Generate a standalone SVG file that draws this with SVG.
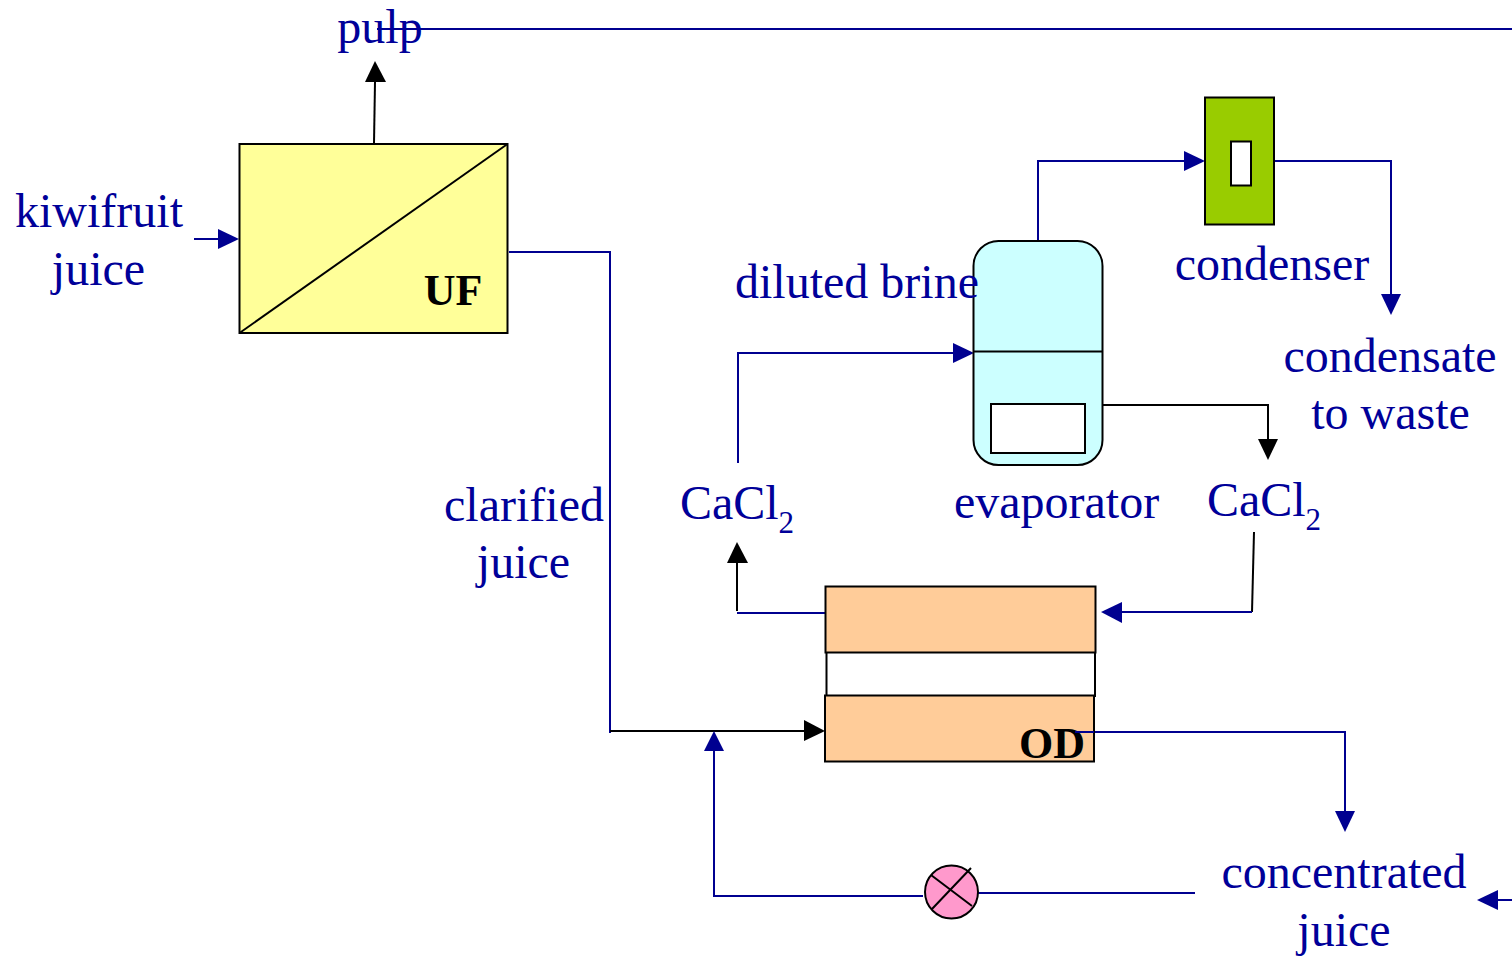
<svg xmlns="http://www.w3.org/2000/svg" width="1512" height="958" viewBox="0 0 1512 958">
<style>
.t{font-family:"Liberation Serif","Times New Roman",serif;font-size:48px;fill:#000099;text-anchor:middle}
.sub{font-size:31px}
.b{font-family:"Liberation Serif","Times New Roman",serif;font-size:44px;font-weight:bold;fill:#000;text-anchor:middle}
.s{stroke:#000;stroke-width:2}
.c{fill:none;stroke:#000090;stroke-width:2}
.k{fill:none;stroke:#000;stroke-width:2}
.hb{fill:#000090}
.hk{fill:#000}
</style>
<rect width="1512" height="958" fill="#fff"/>
<g id="connectors">
<path class="c" d="M377 29H1512"/>
<path class="k" d="M374 143L375 82"/><path class="hk" d="M375 61L386 82H365Z"/>
<path class="c" d="M194 239H218"/><path class="hb" d="M239 239L218 229V249Z"/>
<path class="c" d="M509 252H610V733"/>
<path class="k" d="M610 731H805"/><path class="hk" d="M825 731L804 720V741Z"/>
<path class="c" d="M1038 241V161H1184"/><path class="hb" d="M1205 161L1184 151V171Z"/>
<path class="c" d="M1274 161H1391V294"/><path class="hb" d="M1391 315L1381 294H1401Z"/>
<path class="c" d="M738 463V353H953"/><path class="hb" d="M974 353L953 343V363Z"/>
<path class="k" d="M1103 405H1268V439"/><path class="hk" d="M1268 460L1258 439H1278Z"/>
<path class="k" d="M1254 532L1252 612"/><path class="c" d="M1252 612H1121"/><path class="hb" d="M1101 612L1122 602V623Z"/>
<path class="c" d="M825 613H737"/><path class="k" d="M737 611V563"/><path class="hk" d="M737 542L748 563H727Z"/>
<path class="c" d="M1075 732H1345V811"/><path class="hb" d="M1345 832L1335 811H1355Z"/>
<path class="c" d="M1195 893H978"/><path class="c" d="M923 896H714V751"/><path class="hb" d="M714 731L724 751H704Z"/>
<path class="hb" d="M1477 900L1498 890V910Z"/><path class="c" d="M1498 900H1512"/>
</g>
<g id="uf">
<rect x="239.500" y="144" width="268" height="189" fill="#ffff99" class="s"/>
<path class="k" d="M239.500 333L507.500 144"/>
<text class="b" x="453" y="305">UF</text>
</g>
<g id="condenser">
<rect x="1205" y="97.500" width="69" height="127" fill="#99cc00" class="s"/>
<rect x="1231" y="141.500" width="20" height="44" fill="#fff" class="s"/>
</g>
<g id="evaporator">
<rect x="973.500" y="241" width="129" height="224" rx="25" fill="#ccffff" class="s"/>
<path class="k" d="M973.500 351.500H1102.500"/>
<rect x="991" y="404" width="94" height="49" fill="#fff" class="s"/>
</g>
<g id="od">
<rect x="826.500" y="652" width="268.500" height="44" fill="#fff" class="s"/>
<rect x="825.500" y="586.500" width="270" height="66" fill="#ffcc99" class="s"/>
<rect x="825" y="695.500" width="269" height="66" fill="#ffcc99" class="s"/>
<text class="b" x="1052" y="758">OD</text>
<path class="c" d="M1075 732H1094"/>
</g>
<g id="valve">
<circle cx="951.500" cy="892" r="26.500" fill="#ff99cc" class="s"/>
<path class="k" d="M931 875L972 906M932 909L971 868"/>
</g>
<g id="labels">
<text class="t" x="380" y="43">pulp</text>
<text class="t" x="99" y="227">kiwifruit</text>
<text class="t" x="98.500" y="285">juice</text>
<text class="t" x="857" y="298">diluted brine</text>
<text class="t" x="1272" y="280">condenser</text>
<text class="t" x="1390" y="372">condensate</text>
<text class="t" x="1390.500" y="429">to waste</text>
<text class="t" x="524" y="521">clarified</text>
<text class="t" x="523.500" y="578">juice</text>
<text class="t" x="737" y="519">CaCl<tspan class="sub" dy="14">2</tspan></text>
<text class="t" x="1056.500" y="518">evaporator</text>
<text class="t" x="1264" y="516">CaCl<tspan class="sub" dy="14">2</tspan></text>
<text class="t" x="1344" y="888">concentrated</text>
<text class="t" x="1344" y="946">juice</text>
</g>
</svg>
